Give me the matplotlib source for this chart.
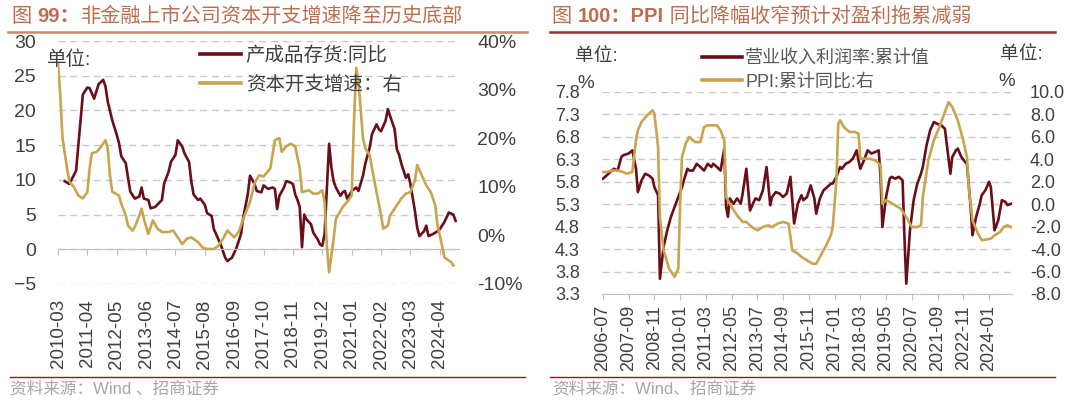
import numpy as np
import matplotlib
matplotlib.use('Agg')
import matplotlib.pyplot as plt
from matplotlib.lines import Line2D

plt.rcParams['font.family'] = ['Liberation Sans', 'Noto Sans CJK SC']

# ---- left chart: month offsets from 2010-03 ----
inv_m = [3, 5, 8, 11, 13, 14, 16, 18, 20, 21, 22, 24, 26, 27, 28, 30, 31, 32, 34, 36,
         37, 38, 40, 41, 43, 46, 47, 49, 50, 52, 53, 55, 56, 58, 59, 60, 62, 63, 65, 66,
         68, 69, 72, 74, 75, 77, 79, 81, 82, 84, 85, 87, 88, 90, 91, 93, 95, 96, 97, 98,
         100, 101, 103, 104, 105, 106, 107, 108, 109, 110, 112, 113, 115, 116, 117, 118, 120, 121, 122, 123,
         125, 126, 127, 128, 129, 130, 132, 133, 135, 136, 138, 139, 141, 142, 143, 145, 146, 147, 149, 150,
         151, 152, 154, 155, 156, 158, 159, 160, 162, 163, 164, 166, 168, 169, 171, 173, 175, 176]
inv_v = [9.8, 9.4, 11.3, 22.3, 23.3, 23.2, 21.7, 23.8, 24.4, 23.5, 21.3, 18.6, 16.5, 15.3, 13.4, 12.4, 10.3, 8.3, 7.3, 7.6,
         8.9, 7.3, 7.1, 5.9, 6.1, 7.1, 9.5, 11.2, 12.6, 13.6, 15.7, 14.8, 13.8, 12.6, 9.8, 7.9, 7.1, 7.3, 6.4, 5.2,
         4.8, 2.9, 0.7, -1.2, -1.7, -1.2, 0.2, 2.2, 4.6, 7.9, 10.6, 9.4, 8.4, 8.2, 9.2, 8.7, 8.9, 8.7, 5.8, 7.7,
         8.9, 9.8, 9.6, 9.4, 7.9, 7.1, 6.1, 0.3, 5.0, 4.3, 3.6, 2.4, 1.4, 0.7, 0.5, 2.2, 15.2, 11.8, 9.8, 8.9,
         7.7, 8.2, 8.4, 7.3, 7.8, 8.4, 8.9, 8.4, 10.6, 12.3, 14.7, 16.6, 18.0, 17.3, 17.0, 18.5, 20.2, 19.2, 17.3, 14.4,
         13.6, 12.3, 10.3, 10.8, 9.4, 5.5, 3.1, 1.9, 2.6, 3.4, 1.9, 2.2, 2.6, 2.9, 3.9, 5.3, 5.0, 4.1]

capex_m = [0, 1, 2, 4, 5, 7, 9, 11, 13, 14, 15, 17, 18, 20, 21, 22, 23, 24, 27, 28,
           30, 31, 33, 34, 36, 37, 38, 40, 41, 42, 44, 46, 49, 51, 53, 55, 57, 59, 62, 64,
           66, 69, 71, 73, 75, 78, 80, 82, 85, 87, 89, 91, 94, 96, 98, 99, 101, 103, 105, 107,
           108, 111, 113, 115, 117, 118, 119, 120, 122, 123, 126, 128, 130, 131, 132, 133, 135, 136, 138, 139,
           141, 143, 144, 146, 147, 149, 152, 154, 156, 158, 159, 161, 163, 165, 167, 168, 170, 171, 174, 175]
capex_v = [35.3, 28.9, 20.0, 13.8, 11.1, 10.0, 8.2, 7.6, 8.9, 13.8, 16.9, 17.2, 17.6, 18.9, 19.6, 17.9, 12.4, 9.0, 8.2, 6.5,
           4.1, 2.0, 1.0, 1.7, 4.1, 5.5, 3.4, 0.3, 1.7, 3.1, 1.4, 0.7, 0.7, 1.0, -0.4, -1.8, -0.7, -0.4, -1.4, -2.5,
           -2.8, -2.8, -2.1, -0.7, 1.0, -0.4, 0.7, 3.4, 6.9, 10.7, 12.4, 12.1, 13.8, 19.6, 20.0, 17.2, 18.3, 18.9, 18.3, 13.8,
           8.9, 9.3, 8.6, 8.6, 9.3, 6.9, -2.1, -7.6, -0.7, 3.4, 5.8, 6.9, 8.2, 23.4, 34.5, 31.7, 20.0, 17.9, 16.5, 13.8,
           8.9, 4.1, 1.4, 2.0, 4.1, 5.5, 7.6, 8.6, 8.9, 11.3, 14.5, 12.4, 10.3, 8.9, 6.2, 2.0, -2.1, -4.5, -5.5, -6.2]

left_labels = ['2010-03', '2011-04', '2012-05', '2013-06', '2014-07', '2015-08', '2016-09',
               '2017-10', '2018-11', '2019-12', '2021-01', '2022-02', '2023-03', '2024-04']

# ---- right chart: month offsets from 2006-07 ----
margin_m = [0, 2, 4, 6, 8, 10, 11, 14, 16, 18, 19, 21, 23, 25, 27, 28, 30, 31, 33, 35,
            37, 39, 41, 43, 44, 46, 47, 49, 51, 53, 55, 57, 59, 60, 62, 64, 66, 67, 68, 69,
            71, 73, 75, 76, 78, 80, 82, 83, 85, 87, 89, 91, 92, 94, 96, 98, 100, 102, 104, 106,
            108, 109, 111, 113, 115, 116, 118, 120, 122, 124, 125, 127, 129, 130, 132, 134, 136, 138, 139, 140,
            142, 144, 146, 148, 150, 151, 152, 154, 156, 157, 159, 161, 163, 164, 165, 167, 169, 171, 173, 174,
            176, 178, 180, 182, 184, 186, 187, 189, 190, 192, 193, 195, 197, 198, 200, 201, 203, 205, 206, 208,
            210, 211, 213, 215, 217, 219, 220, 222]
margin_v = [5.87, 5.94, 6.02, 6.09, 6.05, 6.35, 6.39, 6.43, 6.50, 6.09, 5.57, 5.83, 5.98, 5.94, 5.87, 5.68, 5.50, 3.64, 4.35, 4.72,
            5.02, 5.24, 5.46, 5.68, 5.83, 6.09, 6.05, 6.05, 6.20, 6.13, 6.05, 6.20, 6.13, 6.20, 6.13, 6.05, 6.54, 5.24, 5.02, 5.43,
            5.31, 5.43, 5.31, 5.54, 6.09, 5.16, 5.35, 5.43, 5.39, 5.61, 6.13, 5.28, 5.46, 5.57, 5.54, 5.46, 5.54, 5.91, 4.87, 5.31,
            5.50, 5.39, 5.46, 5.72, 5.43, 5.09, 5.43, 5.61, 5.68, 5.76, 5.76, 5.91, 6.13, 6.09, 6.20, 6.24, 6.32, 6.50, 6.28, 6.09,
            6.28, 6.50, 6.43, 6.46, 6.50, 5.91, 4.79, 5.46, 5.87, 5.91, 5.87, 5.91, 5.83, 4.57, 3.53, 4.72, 5.39, 5.76, 5.98, 6.13,
            6.61, 6.95, 7.13, 7.09, 7.06, 6.98, 6.65, 5.98, 6.35, 6.50, 6.54, 6.35, 6.24, 6.20, 5.24, 4.61, 5.02, 5.31, 5.50, 5.61,
            5.80, 5.68, 4.72, 4.94, 5.39, 5.35, 5.28, 5.31]

ppi_m = [0, 2, 5, 8, 11, 13, 16, 18, 19, 21, 24, 27, 28, 30, 31, 33, 36, 39, 41, 42,
         43, 45, 47, 50, 53, 55, 57, 60, 62, 64, 66, 67, 70, 73, 76, 78, 81, 84, 87, 90,
         92, 95, 98, 101, 103, 106, 108, 111, 114, 116, 118, 121, 124, 125, 127, 128, 129, 131, 134, 137,
         139, 140, 142, 145, 148, 151, 152, 154, 156, 159, 162, 165, 168, 171, 173, 174, 177, 180, 183, 186,
         188, 190, 193, 196, 198, 199, 201, 204, 206, 208, 211, 213, 216, 218, 220, 222]
ppi_v = [2.87, 2.87, 3.0, 3.0, 2.87, 2.72, 2.87, 5.69, 6.58, 7.33, 7.92, 8.37, 8.07, 5.10, -1.14, -4.1, -5.74, -6.48, -5.74, 0.05,
         4.2, 5.4, 6.0, 5.54, 5.54, 6.88, 7.03, 7.03, 7.03, 6.58, 5.69, 0.64, -0.25, -1.0, -1.58, -1.58, -2.03, -2.33, -2.03, -1.88,
         -2.03, -1.73, -1.58, -1.73, -4.1, -4.4, -4.7, -5.0, -5.3, -5.3, -4.7, -3.8, -2.77, -2.03, 2.13, 7.18, 7.48, 6.88, 6.44, 6.44,
         6.29, 4.06, 4.06, 4.06, 3.91, 3.47, 0.05, 0.35, 0.2, -0.1, -0.4, -1.14, -2.03, -2.03, -1.88, 0.64, 3.91, 5.69, 6.88, 8.22,
         9.1, 8.66, 7.48, 5.69, 4.2, 1.53, -1.43, -2.62, -3.2, -3.16, -3.07, -2.77, -2.47, -2.03, -1.88, -2.03]

right_labels = ['2006-07', '2007-09', '2008-11', '2010-01', '2011-03', '2012-05', '2013-07', '2014-09',
                '2015-11', '2017-01', '2018-03', '2019-05', '2020-07', '2021-09', '2022-11', '2024-01']

DARK = '#6A0E19'
GOLD = '#C9A44F'
GRID = '#C8C8C8'
AXIS = '#BFBFBF'
TICK = '#404040'
TEXT = '#404040'
TITLE = '#BD6E4F'

W, H = 1080, 401
fig = plt.figure(figsize=(W / 100, H / 100), dpi=100)


def box(x0, y0, x1, y1):
    # pixel box (top-left origin) -> figure fraction
    return [x0 / W, 1 - y1 / H, (x1 - x0) / W, (y1 - y0) / H]


def title(x, parts, ax):
    prev = None
    for s, bold in parts:
        w = 'bold' if bold else 'normal'
        if prev is None:
            prev = fig.text(x / W, 1 - 16 / H, s, fontsize=14.5, color=TITLE, va='center', fontweight=w)
        else:
            prev = ax.annotate(s, xy=(1, 0.5), xycoords=prev, va='center', ha='left',
                               fontsize=14.5, color=TITLE, fontweight=w, annotation_clip=False)


# ---------------- left chart ----------------
ax1 = fig.add_axes(box(58, 41, 459, 284))
ax1b = ax1.twinx()
ax1.plot(inv_m, inv_v, color=DARK, lw=1.9, label='产成品存货:同比')
ax1b.plot(capex_m, capex_v, color=GOLD, lw=1.9, label='资本开支增速：右')

ax1.set_xlim(0, 177.5)
ax1.set_ylim(-5, 30)
ax1b.set_ylim(-10, 40)
ax1.set_yticks(np.arange(-5, 31, 5))
ax1b.set_yticks(np.arange(-10, 41, 10))
ax1b.set_yticklabels([f'{v}%' for v in np.arange(-10, 41, 10)])
ax1.yaxis.grid(True, color=GRID, lw=1, ls=(0, (5, 3.5)))
ax1.set_axisbelow(True)

for s in ['top', 'left', 'right']:
    ax1.spines[s].set_visible(False)
for s in ax1b.spines.values():
    s.set_visible(False)
ax1.spines['bottom'].set_position(('data', 0))
ax1.spines['bottom'].set_color(AXIS)
ax1.set_xticks(np.arange(len(left_labels)) * 13)
ax1.tick_params(axis='x', length=4, color=AXIS, labelbottom=False)
ax1.tick_params(axis='y', length=0, pad=16, labelsize=14, labelcolor=TICK)
ax1b.tick_params(axis='y', length=0, pad=13, labelsize=14, labelcolor=TICK)

sec1 = ax1.secondary_xaxis('bottom')
sec1.set_ticks(np.arange(len(left_labels)) * 13, left_labels)
sec1.tick_params(length=0, pad=11, labelsize=13.5, labelcolor=TICK, labelrotation=90)
sec1.spines['bottom'].set_visible(False)

leg1 = fig.legend(ax1.get_lines() + ax1b.get_lines(), ['产成品存货:同比', '资本开支增速：右'],
                  loc='upper left', bbox_to_anchor=(200 / W, 1 - 46 / H), frameon=False, fontsize=14,
                  handlelength=2.1, handletextpad=0.25, labelspacing=0.55, borderpad=0, borderaxespad=0,
                  labelcolor=TEXT)
for h in leg1.get_lines():
    h.set_linewidth(2.6)
fig.text(47 / W, 1 - 60 / H, '单位:', fontsize=14, va='center', color=TEXT)

title(12, [('图 ', False), ('99：', True), ('非金融上市公司资本开支增速降至历史底部', False)], ax1)

# ---------------- right chart ----------------
ax2 = fig.add_axes(box(602, 92, 1012, 294))
ax2b = ax2.twinx()
ax2.plot(margin_m, margin_v, color=DARK, lw=1.9)
ax2b.plot(ppi_m, ppi_v, color=GOLD, lw=1.9)

ax2.set_xlim(-0.5, 222.5)
ax2.set_ylim(3.3, 7.8)
ax2b.set_ylim(-8, 10)
lt = np.arange(3.3, 7.81, 0.5)
rt = np.arange(-8, 10.1, 2)
ax2.set_yticks(lt)
ax2.set_yticklabels([f'{v:.1f}' for v in lt])
ax2b.set_yticks(rt)
ax2b.set_yticklabels([f'{v:.1f}' for v in rt])
ax2.yaxis.grid(True, color=GRID, lw=1, ls=(0, (5, 3.5)))
ax2.set_axisbelow(True)

for s in ['top', 'left', 'right']:
    ax2.spines[s].set_visible(False)
for s in ax2b.spines.values():
    s.set_visible(False)
ax2.spines['bottom'].set_color(AXIS)
ax2.set_xticks(np.arange(len(right_labels)) * 14)
ax2.set_xticklabels(right_labels)
ax2.tick_params(axis='x', length=4, color=AXIS, pad=4, labelsize=13, labelcolor=TICK, labelrotation=90)
ax2.tick_params(axis='y', length=0, pad=16, labelsize=13, labelcolor=TICK)
ax2b.tick_params(axis='y', length=0, pad=13, labelsize=13, labelcolor=TICK)

leg2 = fig.legend(ax2.get_lines() + ax2b.get_lines(), ['营业收入利润率:累计值', 'PPI:累计同比:右'],
                  loc='upper left', bbox_to_anchor=(702 / W, 1 - 50 / H), frameon=False, fontsize=13,
                  handlelength=2.2, handletextpad=0.2, labelspacing=0.35, borderpad=0, borderaxespad=0,
                  labelcolor='#595959')
for h in leg2.get_lines():
    h.set_linewidth(2.6)
fig.text(575 / W, 1 - 57 / H, '单位:', fontsize=13.5, va='center', color=TEXT)
fig.text(577 / W, 1 - 84 / H, '%', fontsize=13.5, va='center', color=TEXT)
fig.text(1000 / W, 1 - 55 / H, '单位:', fontsize=13.5, va='center', color=TEXT)
fig.text(998 / W, 1 - 81 / H, '%', fontsize=13.5, va='center', color=TEXT)

title(552, [('图 ', False), ('100：PPI', True), (' 同比降幅收窄预计对盈利拖累减弱', False)], ax2)

# title underlines and source rules
fig.add_artist(Line2D([8 / W, 527 / W], [1 - 32 / H] * 2, color='#C98B6B', lw=1.8))
fig.add_artist(Line2D([550 / W, 1055 / W], [1 - 32 / H] * 2, color='#9B2D2D', lw=1.8))
fig.add_artist(Line2D([10 / W, 525 / W], [1 - 377 / H] * 2, color='#8B1C1C', lw=1.0))
fig.add_artist(Line2D([550 / W, 1055 / W], [1 - 377 / H] * 2, color='#8B1C1C', lw=1.0))
fig.text(10 / W, 1 - 389 / H, '资料来源：Wind 、招商证券', fontsize=12, va='center', color='#A6A6A6')
fig.text(552 / W, 1 - 389 / H, '资料来源：Wind、招商证券', fontsize=12, va='center', color='#A6A6A6')

fig.savefig('out.png', dpi=100)
